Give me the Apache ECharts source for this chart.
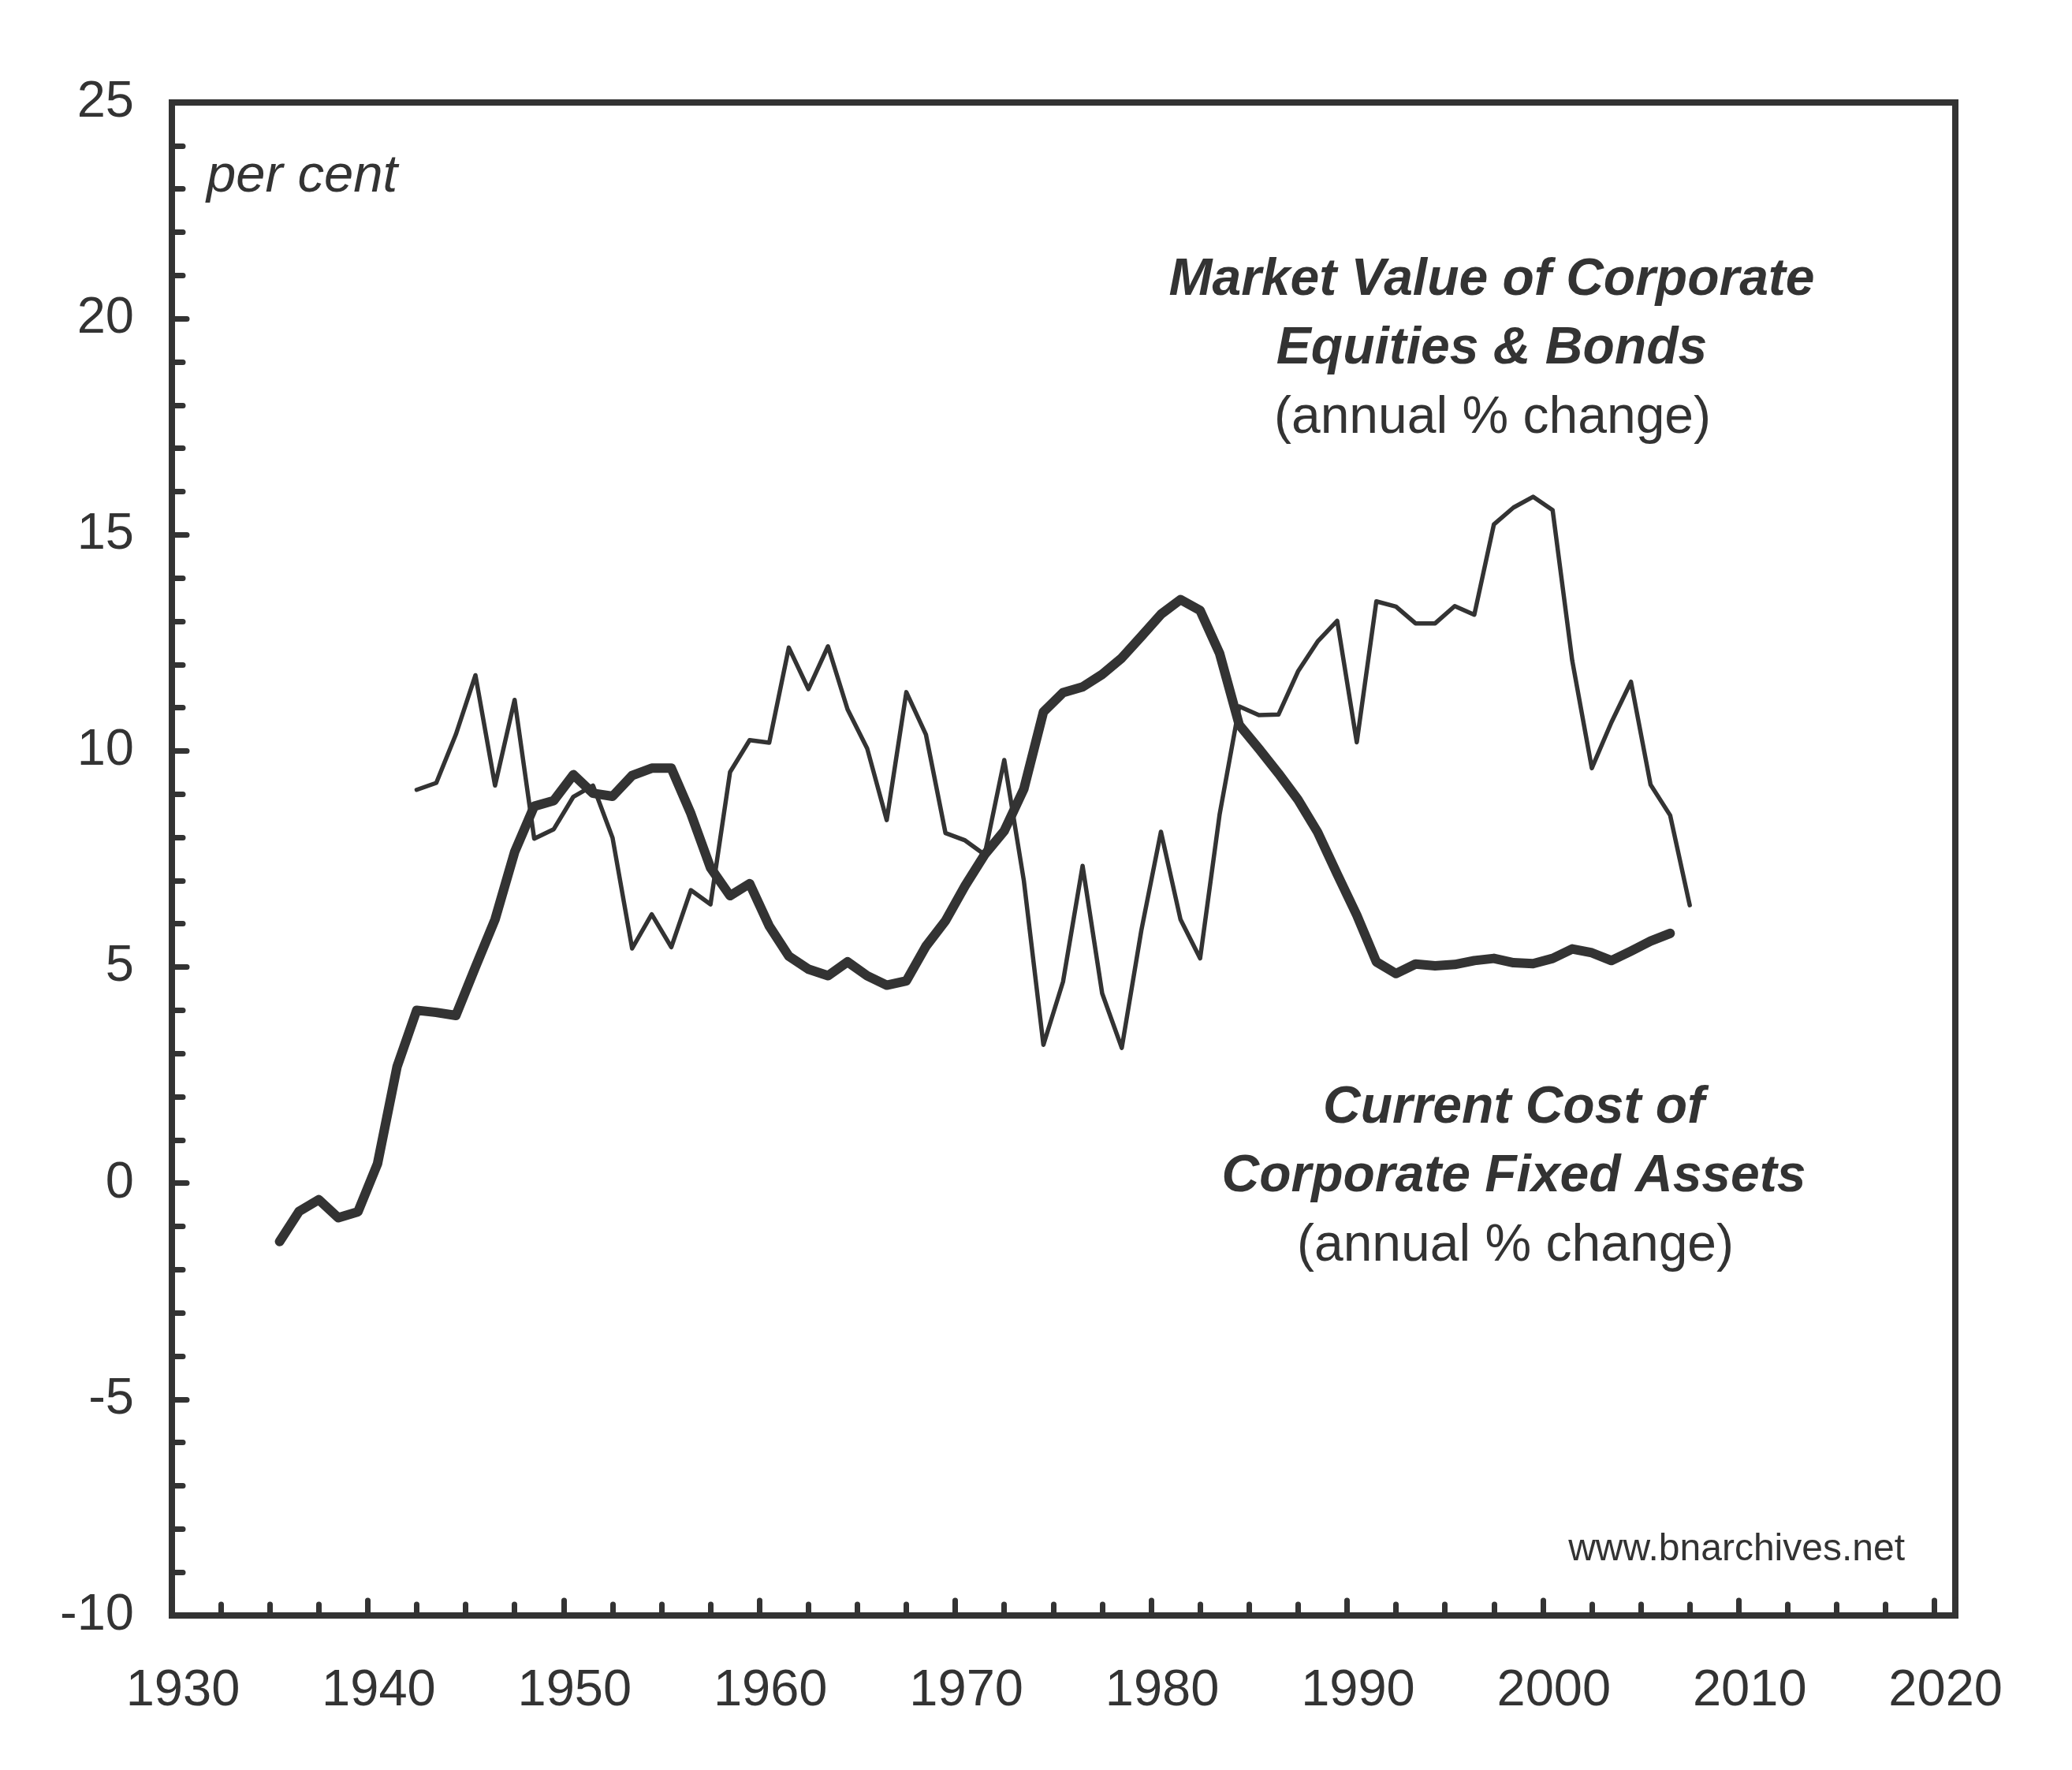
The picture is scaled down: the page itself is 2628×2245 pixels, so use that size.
<!DOCTYPE html>
<html lang="en">
<head>
    <meta charset="utf-8" />
    <title>Market Value vs Current Cost of Corporate Assets</title>
    <script src="https://cdn.jsdelivr.net/npm/echarts@6/dist/echarts.min.js"></script>
    <style>
        html, body {
            margin: 0;
            padding: 0;
            background-color: #fff;
        }

        #main {
            width: 2628px;
            height: 2245px;
        }
    </style>
</head>
<body>
<div id="main"></div>
<script type="text/javascript">
    // current cost of corporate fixed assets, annual % change
    let costYears = [1935, 1936, 1937, 1938, 1939, 1940, 1941, 1942, 1943, 1944, 1945, 1946, 1947, 1948, 1949,
        1950, 1951, 1952, 1953, 1954, 1955, 1956, 1957, 1958, 1959, 1960, 1961, 1962, 1963, 1964, 1965, 1966,
        1967, 1968, 1969, 1970, 1971, 1972, 1973, 1974, 1975, 1976, 1977, 1978, 1979, 1980, 1981, 1982, 1983,
        1984, 1985, 1986, 1987, 1988, 1989, 1990, 1991, 1992, 1993, 1994, 1995, 1996, 1997, 1998, 1999, 2000,
        2001, 2002, 2003, 2004, 2005, 2006]
    let costValues = [-1.35, -0.65, -0.38, -0.8, -0.66, 0.45, 2.7, 4.0, 3.95, 3.88, 5.0, 6.1, 7.66, 8.72, 8.85,
        9.45, 9.02, 8.95, 9.43, 9.6, 9.6, 8.55, 7.3, 6.65, 6.93, 5.95, 5.25, 4.95, 4.8, 5.12, 4.8, 4.58,
        4.68, 5.48, 6.07, 6.88, 7.6, 8.15, 9.12, 10.9, 11.35, 11.48, 11.77, 12.15, 12.65, 13.16, 13.5, 13.25, 12.25,
        10.6, 10.05, 9.48, 8.87, 8.12, 7.15, 6.2, 5.12, 4.85, 5.07, 5.03, 5.06, 5.15, 5.2, 5.1, 5.08, 5.2,
        5.42, 5.33, 5.15, 5.37, 5.6, 5.78]

    // market value of corporate equities & bonds, annual % change
    let marketYears = [1942, 1943, 1944, 1945, 1946, 1947, 1948, 1949, 1950, 1951, 1952, 1953, 1954, 1955,
        1956, 1957, 1958, 1959, 1960, 1961, 1962, 1963, 1964, 1965, 1966, 1967, 1968, 1969, 1970, 1971, 1972,
        1973, 1974, 1975, 1976, 1977, 1978, 1979, 1980, 1981, 1982, 1983, 1984, 1985, 1986, 1987, 1988, 1989,
        1990, 1991, 1992, 1993, 1994, 1995, 1996, 1997, 1998, 1999, 2000, 2001, 2002, 2003, 2004, 2005, 2006, 2007]
    let marketValues = [9.1, 9.26, 10.38, 11.75, 9.2, 11.18, 7.97, 8.19, 8.94, 9.2, 7.99, 5.43, 6.22, 5.46,
        6.78, 6.45, 9.51, 10.25, 10.19, 12.39, 11.43, 12.42, 10.96, 10.06, 8.4, 11.36, 10.38, 8.1, 7.93, 7.6, 9.79,
        7.0, 3.2, 4.66, 7.34, 4.39, 3.13, 5.85, 8.13, 6.1, 5.2, 8.54, 11.03, 10.83, 10.84, 11.84, 12.53, 13.01,
        10.2, 13.46, 13.34, 12.95, 12.95, 13.35, 13.15, 15.24, 15.63, 15.88, 15.57, 12.09, 9.6, 10.66, 11.6, 9.22, 8.51, 6.43]

    let xTickLabels = [1930, 1940, 1950, 1960, 1970, 1980, 1990, 2000, 2010, 2020]
    let yTickLabels = [-10, -5, 0, 5, 10, 15, 20, 25]

    let ink = '#333333'
    let fontName = '"Liberation Sans", Arial, Helvetica, sans-serif'
    let midYear = 0.5   // annual figures sit in the middle of each year

    function toPoints(years, values) {
        return years.map(function (y, i) { return [y + midYear, values[i]] })
    }

    let xMin = xTickLabels[0]
    let xMax = 2021.06

    let myChart = echarts.init(document.getElementById('main'), null, {renderer: 'canvas'})

    let option = {
        animation: false,
        backgroundColor: '#ffffff',
        grid: {
            left: 218,
            top: 130,
            width: 2262,
            height: 1919,
            show: true,
            borderWidth: 8,
            borderColor: ink,
            outerBoundsMode: 'none'
        },
        xAxis: [
            {
                type: 'value',
                min: xMin,
                max: xMax,
                interval: 2.5,
                position: 'bottom',
                axisLine: {show: false, onZero: false},
                splitLine: {show: false},
                axisTick: {
                    show: true,
                    inside: true,
                    length: 14,
                    lineStyle: {color: ink, width: 7, cap: 'round'}
                },
                axisLabel: {
                    show: true,
                    margin: 64,
                    color: ink,
                    fontSize: 65,
                    fontFamily: fontName,
                    padding: [0, 0, 0, 28],
                    formatter: function (v) {
                        return xTickLabels.indexOf(Math.round(v * 100) / 100) >= 0 ? String(v) : ''
                    }
                }
            },
            {
                type: 'value',
                min: xMin,
                max: xMax,
                interval: 10,
                position: 'bottom',
                axisLine: {show: false, onZero: false},
                splitLine: {show: false},
                axisLabel: {show: false},
                axisTick: {
                    show: true,
                    inside: true,
                    length: 19,
                    lineStyle: {color: ink, width: 7, cap: 'round'}
                }
            }
        ],
        yAxis: {
            type: 'value',
            min: yTickLabels[0],
            max: yTickLabels[yTickLabels.length - 1],
            interval: 5,
            axisLine: {show: false, onZero: false},
            splitLine: {show: false},
            axisTick: {
                show: true,
                inside: true,
                length: 19,
                lineStyle: {color: ink, width: 7, cap: 'round'}
            },
            minorTick: {
                show: true,
                splitNumber: 5,
                length: 14,
                lineStyle: {color: ink, width: 7, cap: 'round'}
            },
            axisLabel: {
                margin: 48,
                color: ink,
                fontSize: 65,
                fontFamily: fontName
            }
        },
        graphic: [
            {type: 'text', style: {text: 'per cent', x: 262, y: 224, fill: ink,
                font: 'italic 67px ' + fontName, textAlign: 'left', textVerticalAlign: 'middle'}},
            {type: 'text', style: {text: 'Market Value of Corporate', x: 1892, y: 356, fill: ink,
                font: 'italic bold 66px ' + fontName, textAlign: 'center', textVerticalAlign: 'middle'}},
            {type: 'text', style: {text: 'Equities & Bonds', x: 1892, y: 443, fill: ink,
                font: 'italic bold 66px ' + fontName, textAlign: 'center', textVerticalAlign: 'middle'}},
            {type: 'text', style: {text: '(annual % change)', x: 1893, y: 531, fill: ink,
                font: '66px ' + fontName, textAlign: 'center', textVerticalAlign: 'middle'}},
            {type: 'text', style: {text: 'Current Cost of', x: 1920, y: 1406, fill: ink,
                font: 'italic bold 66px ' + fontName, textAlign: 'center', textVerticalAlign: 'middle'}},
            {type: 'text', style: {text: 'Corporate Fixed Assets', x: 1920, y: 1493, fill: ink,
                font: 'italic bold 66px ' + fontName, textAlign: 'center', textVerticalAlign: 'middle'}},
            {type: 'text', style: {text: '(annual % change)', x: 1922, y: 1581, fill: ink,
                font: '66px ' + fontName, textAlign: 'center', textVerticalAlign: 'middle'}},
            {type: 'text', style: {text: 'www.bnarchives.net', x: 2416, y: 1966, fill: ink,
                font: '48px ' + fontName, textAlign: 'right', textVerticalAlign: 'middle'}}
        ],
        series: [
            {
                name: 'Current Cost of Corporate Fixed Assets',
                type: 'line',
                xAxisIndex: 0,
                data: toPoints(costYears, costValues),
                showSymbol: false,
                symbol: 'none',
                lineStyle: {color: ink, width: 12, cap: 'round', join: 'round'},
                z: 3
            },
            {
                name: 'Market Value of Corporate Equities & Bonds',
                type: 'line',
                xAxisIndex: 0,
                data: toPoints(marketYears, marketValues),
                showSymbol: false,
                symbol: 'none',
                lineStyle: {color: ink, width: 5.5, cap: 'round', join: 'round'},
                z: 4
            }
        ]
    }

    myChart.setOption(option)
</script>
</body>
</html>
